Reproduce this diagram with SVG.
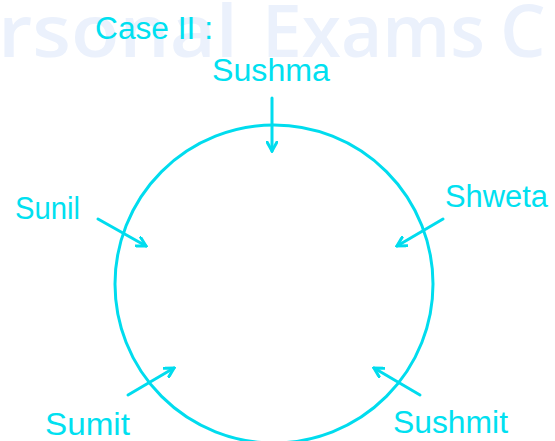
<svg xmlns="http://www.w3.org/2000/svg" width="555" height="441" viewBox="0 0 555 441">
<style>
.wm{font-family:"Open Sans","Liberation Sans",sans-serif;font-size:72px;font-weight:600;fill:#ebf1fc}
.t{font-family:"Liberation Sans",Arial,sans-serif;fill:#00e0f0;font-size:31px}
.ln{stroke:#00dcee;stroke-width:3;fill:none;stroke-linecap:round;stroke-linejoin:round}
</style>
<defs>
<marker id="ah" viewBox="0 0 12 12" refX="10" refY="6" markerWidth="12" markerHeight="12" markerUnits="userSpaceOnUse" orient="auto">
<path d="M1,1 L10,6 L1,11" fill="none" stroke="#00dcee" stroke-width="3" stroke-linecap="round"/>
</marker>
</defs>
<rect width="555" height="441" fill="#fff"/>
<g id="watermark">
<text class="wm" x="-2" y="57" textLength="240" lengthAdjust="spacingAndGlyphs">rsonal</text>
<text class="wm" x="262" y="57" textLength="223" lengthAdjust="spacingAndGlyphs">Exams</text>
<text class="wm" x="500" y="57">C</text>
</g>
<text class="t" x="95" y="39" textLength="118" lengthAdjust="spacingAndGlyphs">Case II :</text>
<g id="circle"><circle class="ln" cx="274" cy="284" r="159"/></g>
<g id="n-sushma"><text class="t" x="212" y="81" textLength="118" lengthAdjust="spacingAndGlyphs">Sushma</text></g>
<g id="n-sunil"><text class="t" x="15" y="219" textLength="65" lengthAdjust="spacingAndGlyphs">Sunil</text></g>
<g id="n-shweta"><text class="t" x="445" y="207" textLength="103" lengthAdjust="spacingAndGlyphs">Shweta</text></g>
<g id="n-sumit"><text class="t" x="45" y="435" textLength="85" lengthAdjust="spacingAndGlyphs">Sumit</text></g>
<g id="n-sushmit"><text class="t" x="393" y="433" textLength="115" lengthAdjust="spacingAndGlyphs">Sushmit</text></g>
<g id="connectors">
<line class="ln" x1="272" y1="98" x2="272" y2="151" marker-end="url(#ah)"/>
<line class="ln" x1="98" y1="219" x2="146" y2="246" marker-end="url(#ah)"/>
<line class="ln" x1="443" y1="219" x2="397" y2="246" marker-end="url(#ah)"/>
<line class="ln" x1="128" y1="395" x2="174" y2="368" marker-end="url(#ah)"/>
<line class="ln" x1="420" y1="395" x2="374" y2="368" marker-end="url(#ah)"/>
</g>
</svg>
